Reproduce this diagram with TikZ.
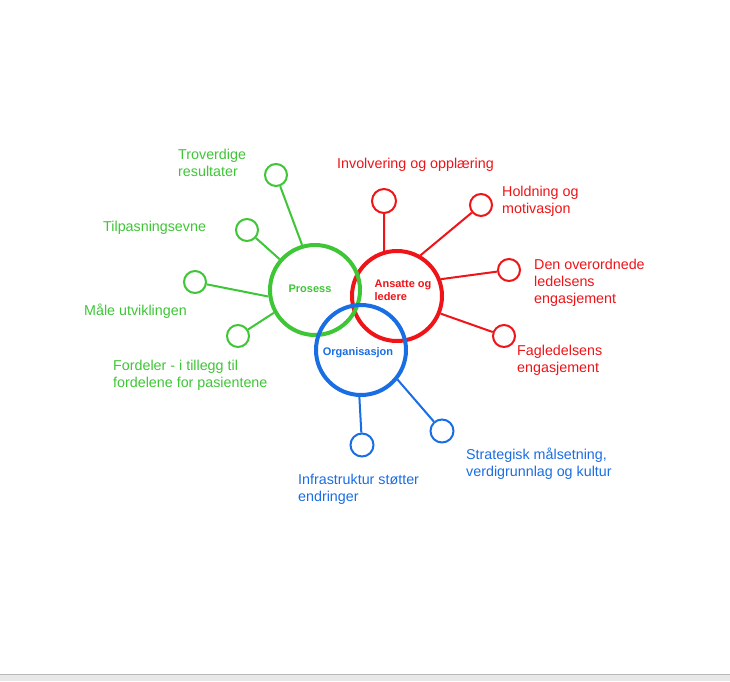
\documentclass[tikz,border=0pt]{standalone}
\usepackage{fontspec}
\setmainfont{Liberation Sans}
\usetikzlibrary{positioning}

\definecolor{procgreen}{RGB}{62,198,54}
\definecolor{staffred}{RGB}{238,20,24}
\definecolor{orgblue}{RGB}{26,110,228}

\tikzset{
	hub/.style={circle, draw, line width=4pt, minimum size=90pt, inner sep=0pt},
	hubtext/.style={inner sep=0pt, align=left, font=\fontsize{11}{13}\selectfont\bfseries},
	leaf/.style={circle, draw, line width=2pt, minimum size=22pt, inner sep=0pt},
	lbl/.style={anchor=west, inner sep=0pt, align=left,
		font=\fontsize{14.3}{17}\selectfont},
	link/.style={line width=2pt}
}

\begin{document}
\begin{tikzpicture}[x=1pt, y=-1pt]
\useasboundingbox (0,0) rectangle (730,681);
\fill[white] (0,0) rectangle (730,681);
\fill[gray!18] (0,674) rectangle (730,681);
\draw[gray!55] (0,674) -- (730,674);

% Add the three hubs
\node[hub, draw=staffred] (a) at (397,296) {};
\node[hub, draw=procgreen] (p) at (315,290) {};
\node[hub, draw=orgblue] (o) at (361,350) {};
\node[hubtext, text=staffred] (ah) at (403,290) {Ansatte og\\ledere};
\node[hubtext, text=procgreen] (ph) at (310,289) {Prosess};
\node[hubtext, text=orgblue] (oh) at (358,353) {Organisasjon};

% Prosess
\node[leaf, draw=procgreen] (p1) at (276,175) {};
\node[leaf, draw=procgreen] (p2) at (247,230) {};
\node[leaf, draw=procgreen] (p3) at (195,282) {};
\node[leaf, draw=procgreen] (p4) at (238,336) {};
\node[lbl, text=procgreen] (tp1) at (178,163) {Troverdige\\resultater};
\node[lbl, text=procgreen] (tp2) at (103,228) {Tilpasningsevne};
\node[lbl, text=procgreen] (tp3) at (84,311) {Måle utviklingen};
\node[lbl, text=procgreen] (tp4) at (113,375) {Fordeler - i tillegg til\\fordelene for pasientene};
\foreach \n/\ang in {p1/106,p2/139,p3/188,p4/209}
	\draw[link, procgreen] (p.\ang) -- (\n);

% Ansatte og ledere
\node[leaf, draw=staffred, minimum size=24pt] (a1) at (384,201) {};
\node[leaf, draw=staffred] (a2) at (481,205) {};
\node[leaf, draw=staffred] (a3) at (509,270) {};
\node[leaf, draw=staffred] (a4) at (504,336) {};
\node[lbl, text=staffred] (ta1) at (337,165) {Involvering og opplæring};
\node[lbl, text=staffred] (ta2) at (502,201) {Holdning og\\motivasjon};
\node[lbl, text=staffred] (ta3) at (534,283) {Den overordnede\\ledelsens\\engasjement};
\node[lbl, text=staffred] (ta4) at (517,360) {Fagledelsens\\engasjement};
\foreach \n/\ang in {a1/106,a2/60,a3/21,a4/-22}
	\draw[link, staffred] (a.\ang) -- (\n);

% Organisasjon
\node[leaf, draw=orgblue, minimum size=23pt] (o1) at (362,445) {};
\node[leaf, draw=orgblue, minimum size=23pt] (o2) at (442,431) {};
\node[lbl, text=orgblue] (to1) at (298,489) {Infrastruktur støtter\\endringer};
\node[lbl, text=orgblue] (to2) at (466,464) {Strategisk målsetning,\\verdigrunnlag og kultur};
\foreach \n/\ang in {o1/268,o2/321}
	\draw[link, orgblue] (o.\ang) -- (\n);
\end{tikzpicture}
\end{document}
